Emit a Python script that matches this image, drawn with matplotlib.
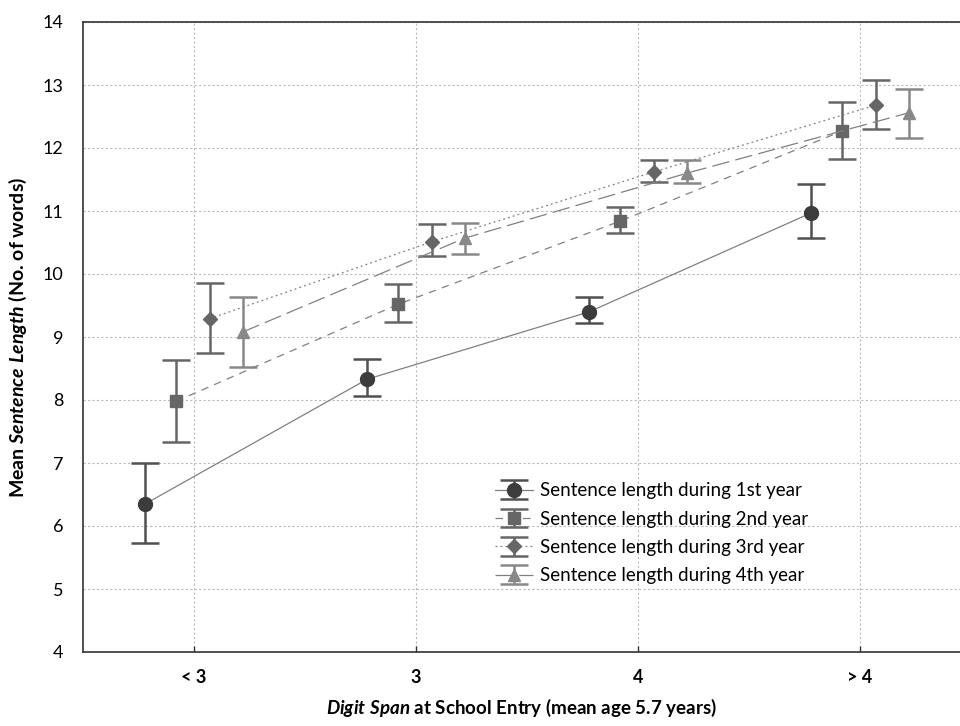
import numpy as np
import matplotlib
matplotlib.use("Agg")
import matplotlib.pyplot as plt

plt.rcParams['font.family'] = ['Lato', 'DejaVu Sans']
plt.rcParams['mathtext.fontset'] = 'custom'
plt.rcParams['mathtext.it'] = 'Lato:italic:bold'
plt.rcParams['mathtext.rm'] = 'Lato:bold'

# digit span groups
groups = ['< 3', '3', '4', '> 4']

# mean sentence length with lower / upper error limits, per school year
year1 = [6.35, 8.33, 9.40, 10.97]
year1_lo = [5.73, 8.06, 9.22, 10.57]
year1_hi = [7.00, 8.65, 9.63, 11.43]

year2 = [7.98, 9.52, 10.84, 12.27]
year2_lo = [7.33, 9.24, 10.65, 11.83]
year2_hi = [8.63, 9.84, 11.06, 12.73]

year3 = [9.29, 10.51, 11.62, 12.68]
year3_lo = [8.75, 10.29, 11.46, 12.30]
year3_hi = [9.86, 10.79, 11.81, 13.08]

year4 = [9.08, 10.57, 11.60, 12.56]
year4_lo = [8.52, 10.32, 11.44, 12.16]
year4_hi = [9.63, 10.81, 11.81, 12.94]

labels = ['Sentence length during 1st year', 'Sentence length during 2nd year',
          'Sentence length during 3rd year', 'Sentence length during 4th year']

series = [
    (year1, year1_lo, year1_hi, -0.22, 'o', '#3c3c3c', '#505050', '-', 10),
    (year2, year2_lo, year2_hi, -0.08, 's', '#666666', '#666666', (0, (6, 5)), 8.5),
    (year3, year3_lo, year3_hi, 0.07, 'D', '#666666', '#666666', (0, (1.5, 2.5)), 7),
    (year4, year4_lo, year4_hi, 0.22, '^', '#888888', '#888888', (0, (14, 5)), 8.5),
]

fig = plt.figure(figsize=(9.6, 7.26), dpi=100)
ax = fig.add_axes([83 / 960, 1 - 652 / 726, 1 - 83 / 960, (652 - 22) / 726])

x = np.arange(len(groups))
for (vals, lo, hi, off, mk, mcol, ecol, ls, ms), lab in zip(series, labels):
    vals = np.array(vals)
    yerr = [vals - np.array(lo), np.array(hi) - vals]
    ax.errorbar(x + off, vals, yerr=yerr, marker=mk, linestyle=ls, color='#808080',
                lw=0.9, mfc=mcol, mec=mcol, ecolor=ecol, markersize=ms,
                elinewidth=1.8, capsize=10, capthick=1.8, label=lab, zorder=3)

ax.set_xlim(-0.5, 3.45)
ax.set_ylim(4, 14)
ax.set_yticks(range(4, 15))
ax.set_xticks(x)
ax.set_xticklabels(groups, fontweight='bold', fontsize=13)
ax.tick_params(axis='y', labelsize=13, length=0, pad=14)
ax.tick_params(axis='x', length=4, width=1, direction='in', pad=12, color='#333333')
ax.grid(True, color='#bbbbbb', linestyle=(0, (2, 2)), linewidth=0.8)
ax.set_axisbelow(True)
for s in ['left', 'top', 'bottom']:
    ax.spines[s].set_color('#333333')
    ax.spines[s].set_linewidth(1.2)
ax.spines['right'].set_visible(False)

ax.set_ylabel(r'Mean $Sentence\ Length$ (No. of words)', fontsize=14, fontweight='bold', labelpad=10)
ax.set_xlabel(r'$Digit\ Span$ at School Entry (mean age 5.7 years)', fontsize=13.5,
              fontweight='bold', labelpad=8)

ax.legend(loc='upper left', bbox_to_anchor=(0.455, 0.29), frameon=False, fontsize=13.5,
          handlelength=2.0, handletextpad=0.4, labelspacing=0.6, borderpad=0.2)

fig.savefig('out.png', dpi=100)
